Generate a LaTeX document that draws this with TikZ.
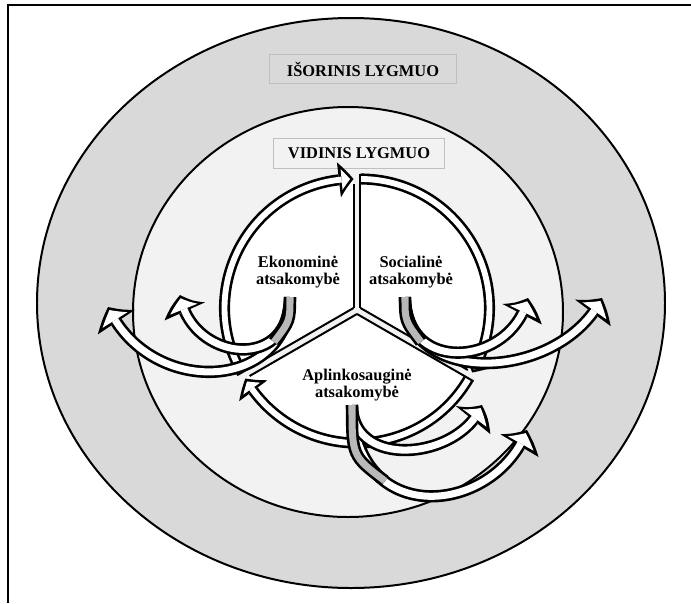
\documentclass[tikz,border=0pt]{standalone}
\usepackage{fontspec}
\setmainfont{Liberation Serif}
\usetikzlibrary{arrows.meta,bending}
\definecolor{ringgray}{HTML}{D9D9D9}
\definecolor{innergray}{HTML}{F2F2F2}
\definecolor{boxline}{HTML}{BFBFBF}
\definecolor{backgray}{HTML}{B8B8B8}
% outlined ribbon: black body first, light core on top
\newcommand{\ribbon}[2][curl]{\draw[#1out] #2; \draw[#1in] #2;}

\begin{document}
\begin{tikzpicture}[
  x=0.03cm, y=-0.03cm,
  lbl/.style={font=\fontsize{14}{15}\selectfont\bfseries,align=center,inner sep=0pt},
  lvl/.style={draw=boxline,line width=0.8pt,inner sep=0pt,font=\fontsize{14}{15}\selectfont\bfseries},
  ringout/.style={draw=black,line width=9.5pt,
    -{Triangle[length=12.5pt,width=30pt,line width=0pt,bend]}},
  ringin/.style={draw=white,line width=5pt,shorten >=2.93pt,
    -{Triangle[length=7.3pt,width=17.6pt,line width=0pt,bend]}},
  curlout/.style={draw=black,line width=10.5pt,
    -{Triangle[length=15pt,width=38pt,line width=0pt,bend]}},
  curlin/.style={draw=white,line width=6pt,shorten >=2.87pt,
    -{Triangle[length=9.9pt,width=25pt,line width=0pt,bend]}},
  backout/.style={draw=black,line width=10.5pt},
  backin/.style={draw=backgray,line width=6pt},
  sep/.style={line width=1.7pt}
]
\useasboundingbox (0,0) rectangle (691,603);
\draw[line width=2pt] (691,5) -- (8,5) -- (8,603);

% levels
\draw[line width=1.7pt,fill=ringgray] (351,303) ellipse [x radius=314,y radius=285];
\draw[line width=1.7pt,fill=innergray] (348,312) ellipse [x radius=215,y radius=205];
\node[lvl,fill=ringgray,minimum width=5.61cm,minimum height=0.87cm] (outer) at (363,69) {IŠORINIS LYGMUO};
\node[lvl,fill=innergray,minimum width=5.13cm,minimum height=0.9cm] (inner) at (359,153) {VIDINIS LYGMUO};

% three sectors
\coordinate (hub) at (357,310);
\foreach \a in {150,270,30} {
  \path (hub) ++(\a+60:4) coordinate (c);
  \fill[white] (c) -- ++(\a:129) arc[start angle=\a,end angle=\a+120,radius=129] -- cycle;
  \ribbon[ring]{([shift={(\a:129)}]c) arc[start angle=\a,end angle=\a+120,radius=129]}
  \draw[sep] (c) -- ++(\a:134.5);
  \draw[sep] (c) -- ++(\a+120:124);
}
\node[lbl] (eko) at (298,272) {Ekonominė\\atsakomybė};
\node[lbl] (soc) at (411,272) {Socialinė\\atsakomybė};
\node[lbl] (apl) at (357,385) {Aplinkosauginė\\atsakomybė};

% spreading arrows
\coordinate (ekS) at (290,297);
\coordinate (ekO) at (108,307);
\coordinate (ekI) at (180,295);
\coordinate (soS) at (405,297);
\coordinate (soO) at (602,298);
\coordinate (soI) at (528,298);
\coordinate (apS) at (352,405);
\coordinate (apO) at (527,430);
\coordinate (apI) at (482,405);

\ribbon{(ekS) .. controls (288,392) and (150,398) .. (ekO)}
\ribbon{(ekS) .. controls (290,374) and (190,360) .. (ekI)}
\ribbon[back]{(ekS) .. controls (290,321) .. (274,342)}

\ribbon{(soS) .. controls (405,388) and (560,382) .. (soO)}
\ribbon{(soS) .. controls (405,376) and (512,366) .. (soI)}
\ribbon[back]{(soS) .. controls (405,321) .. (421,342)}

\ribbon{(apS) .. controls (355,530) and (495,515) .. (apO)}
\ribbon{(apS) .. controls (352,470) and (460,460) .. (apI)}
\ribbon[back]{(apS) .. controls (352,456) .. (385,481)}
\end{tikzpicture}
\end{document}
